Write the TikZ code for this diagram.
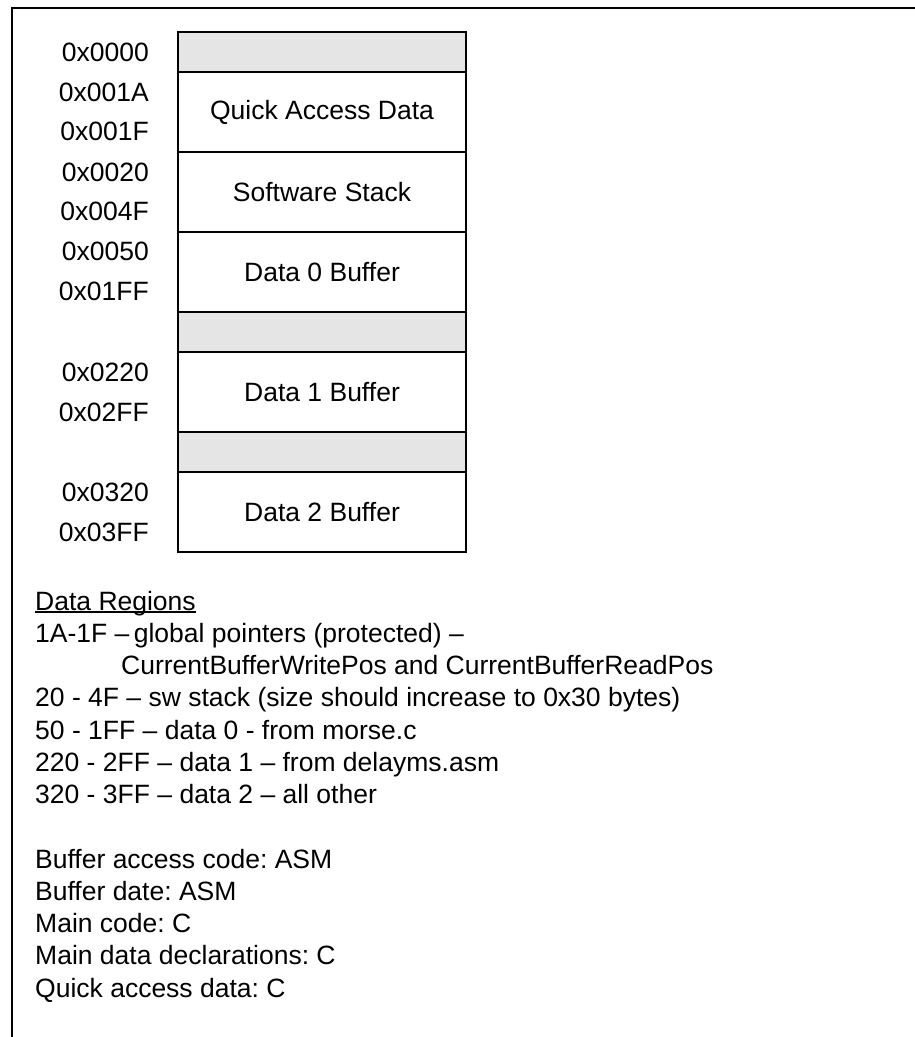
\documentclass[tikz,border=0pt]{standalone}
\usepackage{fontspec}
\setmainfont{Liberation Sans}
\usetikzlibrary{positioning}
\frenchspacing

\begin{document}
\begin{tikzpicture}[
  x=1pt, y=-1pt,
  font=\fontsize{26.5}{32}\selectfont,
  cell/.style={draw, line width=2pt, minimum width=288pt, minimum height=80pt, inner sep=0pt, outer sep=0pt},
  gap/.style={cell, fill=black!10, minimum height=40pt},
  addr/.style={anchor=east, inner sep=0pt},
  note/.style={anchor=base west, inner sep=0pt}
]
\useasboundingbox (0,0) rectangle (914,1037);

% frame
\draw[line width=2pt] (12,1040) -- (12,7.5) -- (916,7.5);

% memory map
\node[gap, anchor=north] (free0) at (322,32) {};
\node[cell, below=0pt of free0] (quick) {Quick Access Data};
\node[cell, below=0pt of quick] (stack) {Software Stack};
\node[cell, below=0pt of stack] (data0) {Data 0 Buffer};
\node[gap, below=0pt of data0] (free1) {};
\node[cell, below=0pt of free1] (data1) {Data 1 Buffer};
\node[gap, below=0pt of data1] (free2) {};
\node[cell, below=0pt of free2] (data2) {Data 2 Buffer};

% addresses
\node[addr] (a0000) at (149,52) {0x0000};
\node[addr] (a001A) at (149,92) {0x001A};
\node[addr] (a001F) at (149,131) {0x001F};
\node[addr] (a0020) at (149,172) {0x0020};
\node[addr] (a004F) at (149,211) {0x004F};
\node[addr] (a0050) at (149,251) {0x0050};
\node[addr] (a01FF) at (149,291) {0x01FF};
\node[addr] (a0220) at (149,372) {0x0220};
\node[addr] (a02FF) at (149,412) {0x02FF};
\node[addr] (a0320) at (149,492) {0x0320};
\node[addr] (a03FF) at (149,532) {0x03FF};

% notes
\node[note] (regions) at (35,610) {Data Regions};
\draw[line width=1.3pt] ([yshift=-2pt]regions.base west) -- ([yshift=-2pt]regions.base east);
\node[note] (r1) at (35,642.25) {1A-1F –\,global pointers (protected) –};
\node[note] (r1b) at (121,674.5) {CurrentBufferWritePos and CurrentBufferReadPos};
\node[note] (r2) at (35,706.75) {20 - 4F – sw stack (size should increase to 0x30 bytes)};
\node[note] (r3) at (35,739) {50 - 1FF – data 0 - from morse.c};
\node[note] (r4) at (35,771.25) {220 - 2FF – data 1 – from delayms.asm};
\node[note] (r5) at (35,803.5) {320 - 3FF – data 2 – all other};

\node[note] (l1) at (35,868) {Buffer access code: ASM};
\node[note] (l2) at (35,900.25) {Buffer date: ASM};
\node[note] (l3) at (35,932.5) {Main code: C};
\node[note] (l4) at (35,964.75) {Main data declarations: C};
\node[note] (l5) at (35,997) {Quick access data: C};

\end{tikzpicture}
\end{document}
